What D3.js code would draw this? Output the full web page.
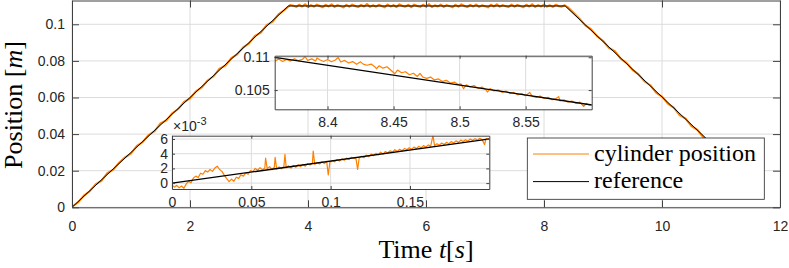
<!DOCTYPE html>
<html>
<head>
<meta charset="utf-8">
<script src="https://cdn.jsdelivr.net/npm/d3@7"></script>
<style>
	body { margin: 0; background: #fff; }
	svg { display: block; }
	.axis text { font-family: "Liberation Sans", Arial, sans-serif; font-size: 14px; fill: #262626; }
	.axis path, .axis line { stroke: #404040; }
	.latex { font-family: "Liberation Serif", "DejaVu Serif", serif; fill: #000; }
</style>
</head>
<body>
<div id="chart"></div>
<script>

// Reference trajectory (time in s, position in mm)
const referenceTime = [0, 3.667, 8.36, 11.7];
const referencePos = [0, 110, 110, 8.8];

// Measured cylinder position, whole run [t, mm]
const cylinderMain = [
	[0,0.3],[0.1,2.6],[0.2,6.4],[0.3,8.8],[0.4,12.5],[0.5,14.6],[0.6,18.7],[0.7,20.6],[0.8,24.4],[0.9,27.3],
	[1.0,29.4],[1.1,33.6],[1.2,35.7],[1.3,39.5],[1.4,41.6],[1.5,45.8],[1.6,47.5],[1.7,51.4],[1.8,53.7],[1.9,57.6],
	[2.0,59.5],[2.1,63.4],[2.2,65.5],[2.3,69.3],[2.4,71.6],[2.5,75.8],[2.6,77.4],[2.7,81.5],[2.8,83.6],[2.9,87.4],
	[3.0,89.5],[3.1,93.7],[3.2,95.4],[3.3,99.6],[3.4,101.5],[3.5,105.4],[3.6,107.8],[3.7,110.6],
	[3.75,110.2],[3.80,109.5],[3.85,110.7],[3.90,109.7],[3.95,110.9],[4.00,109.4],[4.05,110.5],[4.10,109.6],
	[4.15,110.8],[4.20,110.0],[4.25,109.3],[4.30,110.6],[4.35,109.7],[4.40,110.9],[4.45,109.5],[4.50,110.5],
	[4.55,109.9],[4.60,109.2],[4.65,110.7],[4.70,109.6],[4.75,110.8],[4.80,110.0],[4.85,109.4],[4.90,110.6],
	[4.95,109.7],[5.00,111.1],[5.05,109.5],[5.10,110.4],[5.15,109.6],[5.20,110.7],[5.25,109.9],[5.30,109.3],
	[5.35,110.8],[5.40,109.7],[5.45,110.5],[5.50,109.4],[5.55,110.9],[5.60,110.0],[5.65,109.6],[5.70,110.6],
	[5.75,109.3],[5.80,110.8],[5.85,110.0],[5.90,109.5],[5.95,110.7],[6.00,109.7],[6.05,111.0],[6.10,109.4],
	[6.15,110.4],[6.20,109.7],[6.25,110.8],[6.30,109.5],[6.35,110.5],[6.40,109.9],[6.45,109.3],[6.50,110.7],
	[6.55,109.6],[6.60,110.9],[6.65,110.0],[6.70,109.4],[6.75,110.6],[6.80,109.7],[6.85,110.8],[6.90,109.5],
	[6.95,110.4],[7.00,109.9],[7.05,109.2],[7.10,110.7],[7.15,109.7],[7.20,110.9],[7.25,109.6],[7.30,110.5],
	[7.35,109.9],[7.40,109.4],[7.45,110.8],[7.50,109.6],[7.55,110.6],[7.60,109.9],[7.65,109.3],[7.70,110.7],
	[7.75,109.7],[7.80,111.0],[7.85,109.5],[7.90,110.5],[7.95,109.7],[8.00,110.8],[8.05,109.6],[8.10,110.4],
	[8.15,109.5],[8.20,110.7],[8.25,109.9],[8.30,109.6],[8.35,110.4],
	[8.4,109.4],[8.5,106.3],[8.6,103.1],[8.7,99.4],[8.8,97.2],[8.9,93.5],[9.0,91.0],[9.1,87.1],[9.2,85.3],
	[9.3,81.2],[9.4,78.9],[9.5,75.1],[9.6,72.8],[9.7,68.9],[9.8,66.7],[9.9,62.6],[10.0,60.5],[10.1,56.6],
	[10.2,54.5],[10.3,50.3],[10.4,48.4],[10.5,44.4],[10.6,42.3],[10.7,38.2],[10.8,36.1],[10.9,32.2],[11.0,30.1],
	[11.1,26.0],[11.2,24.0],[11.3,20.0],[11.4,17.6],[11.5,14.0],[11.6,11.6],[11.7,8.2]
];

// Zoom on the start of the descent [t, mm]
const cylinderDescent = [
	[8.360,109.40],[8.363,109.72],[8.366,109.35],[8.369,109.66],[8.372,109.42],[8.375,109.78],[8.378,109.48],
	[8.381,109.70],[8.383,110.08],[8.385,109.52],[8.388,109.76],[8.391,109.44],[8.392,109.90],[8.394,109.62],
	[8.397,109.36],[8.400,109.66],[8.403,109.32],[8.406,109.58],[8.408,109.98],[8.410,109.28],[8.413,109.52],
	[8.416,109.12],[8.419,109.34],[8.422,108.92],[8.425,109.30],[8.427,108.95],[8.430,108.78],[8.433,108.96],
	[8.436,108.52],[8.437,108.25],[8.439,108.70],[8.442,108.34],[8.445,108.55],[8.448,108.02],[8.451,107.50],
	[8.453,108.05],[8.456,107.64],[8.459,107.80],[8.462,107.34],[8.465,107.56],[8.468,107.08],[8.470,107.55],
	[8.472,107.00],[8.475,106.78],[8.478,106.98],[8.481,106.55],[8.484,106.70],[8.487,106.32],[8.490,106.48],
	[8.493,106.08],[8.496,106.22],[8.499,105.84],[8.501,105.95],[8.503,105.20],[8.505,105.80],[8.508,105.48],
	[8.511,105.68],[8.514,105.26],[8.517,105.46],[8.520,105.02],[8.521,104.70],[8.523,105.22],[8.526,104.86],
	[8.529,105.04],[8.532,104.66],[8.535,104.86],[8.538,104.46],[8.541,104.64],[8.544,104.28],[8.547,104.46],
	[8.550,104.12],[8.553,104.65],[8.555,104.04],[8.558,103.88],[8.561,104.08],[8.564,103.72],[8.567,103.90],
	[8.570,103.52],[8.573,103.70],[8.575,104.00],[8.576,103.36],[8.579,103.52],[8.582,103.16],[8.585,103.34],
	[8.588,102.98],[8.591,103.16],[8.594,102.50],[8.596,102.96],[8.598,102.74],[8.600,102.80]
];

// Zoom on the first 0.2 s [t, mm]
const cylinderStart = [
	[0.0000,-0.25],[0.0015,-0.55],[0.0030,-0.30],[0.0045,-0.65],[0.0060,-0.40],[0.0075,-0.70],[0.0090,-0.10],
	[0.0105,0.25],[0.0120,0.05],[0.0135,0.70],[0.0150,0.95],[0.0165,0.75],[0.0180,1.35],[0.0195,1.20],
	[0.0210,1.70],[0.0225,1.50],[0.0240,1.85],[0.0255,1.60],[0.0270,2.05],[0.0285,2.30],[0.0300,1.85],
	[0.0315,1.60],[0.0330,1.05],[0.0345,0.60],[0.0360,0.20],[0.0375,0.55],[0.0390,0.25],[0.0405,0.80],
	[0.0420,0.65],[0.0435,1.15],[0.0450,0.95],[0.0465,1.40],[0.0480,1.20],[0.0495,1.70],[0.0510,1.55],
	[0.0525,2.00],[0.0540,1.75],[0.0555,2.10],[0.0570,1.80],[0.0585,2.05],[0.0590,3.40],[0.0600,1.95],
	[0.0615,2.25],[0.0630,1.85],[0.0645,2.15],[0.0650,3.50],[0.0660,1.90],[0.0675,2.20],[0.0690,1.95],
	[0.0705,2.25],[0.0712,3.90],[0.0720,2.10],[0.0735,2.35],[0.0750,2.05],[0.0765,2.40],[0.0780,2.15],
	[0.0795,2.50],[0.0810,2.25],[0.0825,2.55],[0.0840,2.30],[0.0855,2.65],[0.0870,2.45],[0.0885,2.70],
	[0.0890,4.35],[0.0900,2.55],[0.0915,2.80],[0.0930,2.60],[0.0945,2.90],[0.0960,2.65],[0.0975,2.95],
	[0.0985,1.10],[0.0995,2.85],[0.1010,3.05],[0.1025,2.90],[0.1040,3.20],[0.1055,3.00],[0.1070,3.30],
	[0.1085,3.10],[0.1100,3.40],[0.1115,3.20],[0.1130,3.50],[0.1160,3.30],[0.1170,1.85],[0.1180,3.45],
	[0.1195,3.65],[0.1210,3.45],[0.1225,3.80],[0.1240,3.60],[0.1255,3.95],[0.1270,3.75],[0.1285,4.05],
	[0.1300,3.85],[0.1315,4.20],[0.1330,3.95],[0.1345,4.30],[0.1360,4.10],[0.1375,4.40],[0.1390,4.20],
	[0.1405,4.55],[0.1420,4.30],[0.1435,4.60],[0.1450,4.40],[0.1465,4.70],[0.1480,4.55],[0.1495,4.80],
	[0.1510,4.60],[0.1525,4.90],[0.1540,4.70],[0.1555,5.00],[0.1570,4.80],[0.1585,5.10],[0.1600,4.90],
	[0.1615,5.20],[0.1630,5.00],[0.1645,6.45],[0.1655,5.10],[0.1670,5.35],[0.1685,5.15],[0.1700,5.45],
	[0.1715,5.25],[0.1730,5.55],[0.1745,5.35],[0.1760,5.65],[0.1775,5.45],[0.1790,5.75],[0.1805,5.55],
	[0.1820,5.85],[0.1835,5.65],[0.1850,5.90],[0.1865,5.70],[0.1880,6.00],[0.1895,5.80],[0.1910,6.05],
	[0.1925,5.85],[0.1940,6.10],[0.1955,5.90],[0.1970,5.25],[0.1980,6.05],[0.2000,5.95]
];

// Ticks and labels
const mainXTicks = [0, 2, 4, 6, 8, 10, 12];
const mainYTicks = [0, 20, 40, 60, 80, 100];
const mainYTickLabels = ["0", "0.02", "0.04", "0.06", "0.08", "0.1"];
const descentXTicks = [8.4, 8.45, 8.5, 8.55];
const descentYTicks = [105, 110];
const descentYTickLabels = ["0.105", "0.11"];
const startXTicks = [0, 0.05, 0.1, 0.15];
const startYTicks = [0, 2, 4, 6];
const legendLabels = ["cylinder position", "reference"];
const seriesColors = ["#ff8000", "#000000"];

const referenceData = d3.zip(referenceTime, referencePos);

const svg = d3.select("#chart")
	.append("svg")
	.attr("width", 789)
	.attr("height", 268);

// Draws one MATLAB-like axes box with grid, ticks inside and clipped lines
function drawPanel(opt) {
	const x = d3.scaleLinear().domain(opt.xDomain).range([opt.left, opt.right]);
	const y = d3.scaleLinear().domain(opt.yDomain).range([opt.bottom, opt.top]);
	const g = svg.append("g");

	g.append("rect")
		.attr("x", opt.left).attr("y", opt.top)
		.attr("width", opt.right - opt.left)
		.attr("height", opt.bottom - opt.top)
		.attr("fill", "#fff");

	// grid
	g.selectAll(".vgrid").data(opt.xTicks).enter().append("line")
		.attr("x1", d => x(d)).attr("x2", d => x(d))
		.attr("y1", opt.top).attr("y2", opt.bottom)
		.attr("stroke", "#dcdcdc").attr("stroke-width", 1);
	g.selectAll(".hgrid").data(opt.yTicks).enter().append("line")
		.attr("x1", opt.left).attr("x2", opt.right)
		.attr("y1", d => y(d)).attr("y2", d => y(d))
		.attr("stroke", "#dcdcdc").attr("stroke-width", 1);

	// lines, clipped to the box
	svg.append("clipPath").attr("id", "clip-" + opt.name)
		.append("rect")
		.attr("x", opt.left).attr("y", opt.top)
		.attr("width", opt.right - opt.left)
		.attr("height", opt.bottom - opt.top);
	const plot = g.append("g").attr("clip-path", "url(#clip-" + opt.name + ")");
	const line = d3.line().x(d => x(d[0])).y(d => y(d[1]));
	plot.append("path").datum(opt.cylinder)
		.attr("fill", "none").attr("stroke", seriesColors[0])
		.attr("stroke-width", opt.cylWidth).attr("stroke-linejoin", "round")
		.attr("d", line);
	plot.append("path").datum(referenceData)
		.attr("fill", "none").attr("stroke", seriesColors[1])
		.attr("stroke-width", opt.refWidth)
		.attr("d", line);

	// axes on all four sides, ticks pointing inward
	const t = opt.tickLen;
	g.append("g").attr("class", "axis")
		.attr("transform", "translate(0," + opt.bottom + ")")
		.call(d3.axisBottom(x).tickValues(opt.xTicks).tickSize(-t).tickSizeOuter(0)
			.tickPadding(opt.xPad).tickFormat(opt.xFormat));
	g.append("g").attr("class", "axis")
		.attr("transform", "translate(" + opt.left + ",0)")
		.call(d3.axisLeft(y).tickValues(opt.yTicks).tickSize(-t).tickSizeOuter(0)
			.tickPadding(opt.yPad).tickFormat((d, i) => opt.yLabels[i]));
	g.append("g").attr("class", "axis")
		.attr("transform", "translate(0," + opt.top + ")")
		.call(d3.axisTop(x).tickValues(opt.xTicks).tickSize(-t).tickSizeOuter(0).tickFormat(""));
	g.append("g").attr("class", "axis")
		.attr("transform", "translate(" + opt.right + ",0)")
		.call(d3.axisRight(y).tickValues(opt.yTicks).tickSize(-t).tickSizeOuter(0).tickFormat(""));

	return {x: x, y: y, g: g};
}

// Main axes
drawPanel({
	name: "main", left: 72, right: 780, top: 0.5, bottom: 207.3,
	xDomain: [0, 12], yDomain: [0, 113],
	xTicks: mainXTicks, yTicks: mainYTicks, yLabels: mainYTickLabels,
	xFormat: d => String(d), xPad: 14, yPad: 7, tickLen: 7,
	cylinder: cylinderMain, cylWidth: 2, refWidth: 1
});

// Inset: start of the descent
drawPanel({
	name: "descent", left: 274.7, right: 591.7, top: 55.7, bottom: 109.3,
	xDomain: [8.36, 8.6], yDomain: [102.07, 110.24],
	xTicks: descentXTicks, yTicks: descentYTicks, yLabels: descentYTickLabels,
	xFormat: d => String(d), xPad: 8, yPad: 5, tickLen: 3,
	cylinder: cylinderDescent, cylWidth: 1.2, refWidth: 1.3
});

// Inset: first 0.2 s
drawPanel({
	name: "start", left: 172, right: 489.3, top: 135.7, bottom: 189,
	xDomain: [0, 0.2], yDomain: [-0.8, 6.45],
	xTicks: startXTicks, yTicks: startYTicks, yLabels: startYTicks.map(String),
	xFormat: d => String(d), xPad: 8, yPad: 4, tickLen: 3,
	cylinder: cylinderStart, cylWidth: 1.2, refWidth: 1.3
});

// exponent of the small inset
const expo = svg.append("text")
	.attr("x", 173).attr("y", 130.5)
	.style("font-family", "Liberation Sans, Arial, sans-serif")
	.style("font-size", "14px").style("fill", "#262626");
expo.append("tspan").text("\u00d710");
expo.append("tspan").attr("dy", -6).style("font-size", "11px").text("-3");

// Legend
const legend = svg.append("g");
legend.append("rect")
	.attr("x", 527.3).attr("y", 138).attr("width", 237).attr("height", 61.3)
	.attr("fill", "#fff").attr("stroke", "#262626").attr("stroke-width", 0.8);
legendLabels.forEach((label, i) => {
	const ly = 154 + i * 27.6;
	legend.append("line")
		.attr("x1", 533).attr("x2", 589).attr("y1", ly).attr("y2", ly)
		.attr("stroke", seriesColors[i]).attr("stroke-width", 1);
	legend.append("text").attr("class", "latex")
		.attr("x", 594).attr("y", ly + 6.5)
		.style("font-size", "24px")
		.text(label);
});

// Axis labels
const xLabel = svg.append("text").attr("class", "latex")
	.attr("x", 426).attr("y", 258)
	.attr("text-anchor", "middle")
	.style("font-size", "26px");
xLabel.append("tspan").text("Time ");
xLabel.append("tspan").style("font-style", "italic").text("t");
xLabel.append("tspan").text("[");
xLabel.append("tspan").style("font-style", "italic").text("s");
xLabel.append("tspan").text("]");

const yLabel = svg.append("text").attr("class", "latex")
	.attr("transform", "translate(22,105) rotate(-90)")
	.attr("text-anchor", "middle")
	.style("font-size", "26px");
yLabel.append("tspan").text("Position [");
yLabel.append("tspan").style("font-style", "italic").text("m");
yLabel.append("tspan").text("]");

</script>
</body>
</html>
